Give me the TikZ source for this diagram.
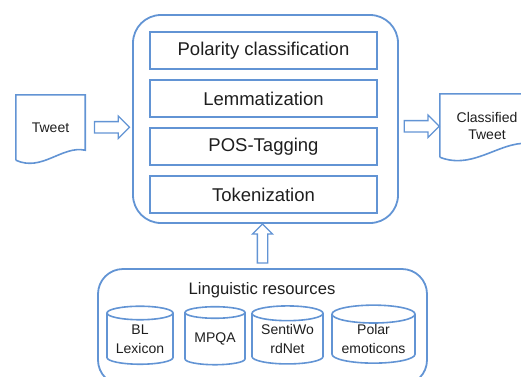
\documentclass[tikz,border=0pt]{standalone}
\usepackage{fontspec}
\setmainfont{Liberation Sans}
\usetikzlibrary{positioning,shapes.geometric,shapes.arrows,calc}
\definecolor{lineblue}{RGB}{98,148,212}
\definecolor{txtgray}{RGB}{30,30,30}
\begin{document}
\begin{tikzpicture}[
          x=1pt, y=-1pt,
          panel/.style={draw=lineblue, line width=1.8pt, rounded corners=28pt},
          stage/.style={draw=lineblue, line width=1.8pt, minimum width=227pt, minimum height=37pt,
                        inner sep=0pt, outer sep=0pt, font=\fontsize{18.5}{22}\selectfont, text=txtgray},
          doc/.style={inner sep=0pt, align=center, font=\fontsize{14}{17}\selectfont, text=txtgray},
          docline/.style={draw=lineblue, line width=1.6pt},
          db/.style={draw=lineblue, line width=1.6pt, cylinder, shape border rotate=90, aspect=0.28,
                     minimum height=58pt, inner sep=0pt, align=center,
                     font=\fontsize{14}{19}\selectfont, text=txtgray},
          fatarrow/.style={draw=lineblue, line width=1.3pt, single arrow, minimum height=35pt,
                           inner xsep=0pt, inner ysep=5pt, single arrow head extend=5.5pt,
                           single arrow tip angle=90}
      ]
        \clip (0,0) rectangle (521,376);
        % processing pipeline
        \draw[panel] (133,15) rectangle (398,223);
        \node[stage] (polarity) at (263.5,50.5) {Polarity classification};
        \node[stage, below=11pt of polarity] (lemma) {Lemmatization};
        \node[stage, below=11pt of lemma] (pos) {POS-Tagging};
        \node[stage, below=11pt of pos] (token) {Tokenization};
        \coordinate (mainw) at (133,127);
        \coordinate (maine) at (398,127);
        \coordinate (mains) at (262.5,223);
        % input and output documents
        \node[doc, minimum width=69pt, minimum height=65pt] (tweet) at (50.5,127.5) {Tweet};
        \draw[docline] (tweet.south west) -- (tweet.north west) -- (tweet.north east)
          -- ($(tweet.south east)+(0,-10)$)
          .. controls ($(tweet.south)+(11.5,-15)$) and ($(tweet.south)+(-8.5,12)$) .. (tweet.south west);
        \node[doc, minimum width=94pt, minimum height=63pt] (classified) at (487,125.5) {Classified\\Tweet};
        \draw[docline] (classified.south west) -- (classified.north west) -- (classified.north east)
          -- ($(classified.south east)+(0,-13)$)
          .. controls ($(classified.south)+(16,-20)$) and ($(classified.south)+(-12,14)$) .. (classified.south west);
        % resources
        \draw[panel, rounded corners=25pt] (98,269) rectangle (427,385);
        \node[font=\fontsize{16.6}{20}\selectfont, text=txtgray] (ling) at (262,290) {Linguistic resources};
        \node[db, minimum width=66pt] (bl) at (140,339) {BL\\Lexicon};
        \node[db, minimum width=60pt] (mpqa) at (215,339) {MPQA};
        \node[db, minimum width=71pt] (swn) at (287.5,339) {SentiWo\\rdNet};
        \node[db, minimum width=83pt] (polar) at (373.5,339) {Polar\\emoticons};
        \coordinate (resn) at (262.5,269);
        % block arrows
        \node[fatarrow] (inarrow) at ($(tweet.east)!0.5!(mainw)$) {};
        \node[fatarrow] (outarrow) at ($(maine)!0.5!(classified.west)$) {};
        \node[fatarrow, rotate=90, minimum height=39pt, inner ysep=4.5pt, single arrow head extend=5pt]
          (resarrow) at ($(resn)!0.5!(mains)$) {};
      \end{tikzpicture}
\end{document}
